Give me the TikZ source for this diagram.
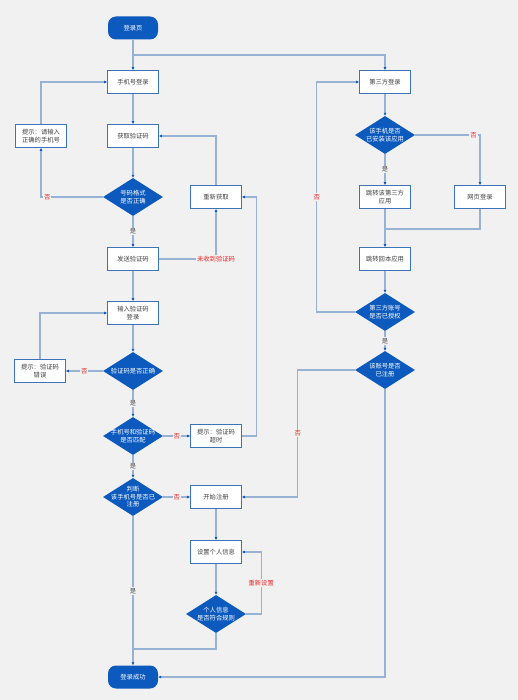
\documentclass[tikz,border=0pt]{standalone}
\usepackage{fontspec}
\newfontfamily\cjk{Noto Sans CJK SC}
\usetikzlibrary{positioning,shapes,arrows.meta,calc}
\definecolor{FlowBlue}{RGB}{12,90,190}
\definecolor{LineBlue}{RGB}{150,178,212}
\definecolor{BoxEdge}{RGB}{60,115,185}
\definecolor{PaperGrey}{RGB}{241,241,241}
\definecolor{NoRed}{RGB}{235,35,35}

\begin{document}
\begin{tikzpicture}[x=1pt, y=-1pt, font=\cjk\fontsize{6.3}{7.6}\selectfont,
  box/.style={rectangle, draw=BoxEdge, line width=0.6pt, fill=white, minimum width=51pt, minimum height=23pt, inner sep=1pt, align=center, text=black!75},
  decision/.style={diamond, fill=FlowBlue, text=white, minimum width=60pt, minimum height=38pt, aspect=1.58, inner xsep=-4pt, inner ysep=0pt, align=center},
  terminal/.style={rectangle, rounded corners=8pt, fill=FlowBlue, text=white, minimum width=50pt, minimum height=23pt, align=center},
  flow/.style={draw=LineBlue, line width=1.3pt, -{Latex[length=3pt,width=3pt,color=FlowBlue]}},
  link/.style={draw=LineBlue, line width=1.3pt},
  yeslabel/.style={fill=PaperGrey, text=black!70, inner sep=1pt},
  nolabel/.style={fill=PaperGrey, text=NoRed, inner sep=1pt}]
  \fill[PaperGrey] (0,0) rectangle (518,700);
  \useasboundingbox (0,0) rectangle (518,700);

  \node[terminal] (n0) at (133, 28) {登录页};
  \node[box] (n1) at (133, 82) {手机号登录};
  \draw[flow] (n0) -- (n1);
  \coordinate (c0) at (133, 55);
  \node[box] (n17) at (385, 82) {第三方登录};
  \draw[flow] (c0) -| (n17);
  \node[box] (n2) at (133, 136) {获取验证码};
  \draw[flow] (n1) -- (n2);
  \node[box] (n3) at (41, 136) {提示：请输入\\正确的手机号};
  \draw[flow] (n3.north) |- (n1.west);
  \node[decision] (n4) at (133, 197) {号码格式\\是否正确};
  \draw[flow] (n2) -- (n4);
  \draw[flow] (n4.west) -| node[nolabel, pos=0.45] {否} (n3.south);
  \node[box] (n5) at (216, 197) {重新获取};
  \draw[flow] (n5.north) |- (n2.east);
  \node[box] (n6) at (133, 259) {发送验证码};
  \draw[flow] (n4) -- node[yeslabel] {是} (n6);
  \draw[flow] (n6.east) -| node[nolabel, pos=0.5] {未收到验证码} (n5.south);
  \node[box] (n7) at (133, 313) {输入验证码\\登录};
  \draw[flow] (n6) -- (n7);
  \node[decision] (n9) at (133, 371) {验证码是否正确};
  \draw[flow] (n7) -- (n9);
  \node[box] (n8) at (40, 371) {提示：验证码\\错误};
  \draw[flow] (n9) -- node[nolabel] {否} (n8);
  \draw[flow] (n8.north) |- (n7.west);
  \node[decision] (n10) at (133, 436) {手机号和验证码\\是否匹配};
  \draw[flow] (n9) -- node[yeslabel] {是} (n10);
  \node[box] (n11) at (216, 436) {提示：验证码\\超时};
  \draw[flow] (n10) -- node[nolabel] {否} (n11);
  \draw[flow] (n11.east) -- ++(15,0) |- (n5.east);
  \node[decision, inner xsep=-9pt] (n12) at (133, 497) {判断\\该手机号是否已\\注册};
  \draw[flow] (n10) -- node[yeslabel] {是} (n12);
  \node[box] (n13) at (216, 497) {开始注册};
  \draw[flow] (n12) -- node[nolabel] {否} (n13);
  \node[box] (n14) at (216, 552) {设置个人信息};
  \draw[flow] (n13) -- (n14);
  \node[decision] (n15) at (216, 614) {个人信息\\是否符合规则};
  \draw[flow] (n14) -- (n15);
  \draw[flow] (n15.east) -- ++(15,0) |- node[nolabel, pos=0.25] {重新设置} (n14.east);
  \node[terminal] (n16) at (133, 677) {登录成功};
  \draw[flow] (n12) -- node[yeslabel] {是} (n16);
  \coordinate (c1) at (133, 649);
  \draw[link] (n15.south) |- (c1);

  \node[decision] (n18) at (385, 135) {该手机是否\\已安装该应用};
  \draw[flow] (n17) -- (n18);
  \node[box] (n19) at (385, 197) {跳转该第三方\\应用};
  \draw[flow] (n18) -- node[yeslabel] {是} (n19);
  \node[box] (n20) at (480, 197) {网页登录};
  \draw[flow] (n18.east) -| node[nolabel, pos=0.45] {否} (n20.north);
  \node[box] (n21) at (385, 259) {跳转回本应用};
  \draw[flow] (n19) -- (n21);
  \coordinate (c2) at (385, 229);
  \draw[link] (n20.south) |- (c2);
  \node[decision] (n22) at (385, 312) {第三方账号\\是否已授权};
  \draw[flow] (n21) -- (n22);
  \draw[flow] (n22.west) -- ++(-38,0) |- node[nolabel, pos=0.25] {否} (n17.west);
  \node[decision] (n23) at (385, 370) {该账号是否\\已注册};
  \draw[flow] (n22) -- node[yeslabel] {是} (n23);
  \draw[flow] (n23.west) -- ++(-57,0) |- node[nolabel, pos=0.25] {否} (n13.east);
  \draw[flow] (n23.south) |- (n16.east);
\end{tikzpicture}
\end{document}
